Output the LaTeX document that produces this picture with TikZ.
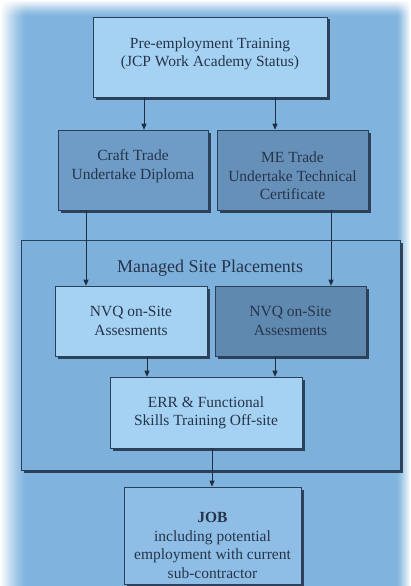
\documentclass[tikz,border=0pt]{standalone}
\usepackage{fontspec}
\setmainfont{Liberation Serif}
\usetikzlibrary{shadows,arrows.meta}
\definecolor{bg}{HTML}{80B4DF}
\definecolor{light}{HTML}{A5D2F3}
\definecolor{mid}{HTML}{8EBEE5}
\definecolor{darkA}{HTML}{6E9CC6}
\definecolor{darkB}{HTML}{6690B8}
\definecolor{darkC}{HTML}{6089B0}
\definecolor{cont}{HTML}{7DB1DC}
\definecolor{edge}{HTML}{2A3F58}
\definecolor{shadowc}{HTML}{1E2E44}
\definecolor{txt}{HTML}{26344A}
\begin{document}
\begin{tikzpicture}[x=1pt,y=-1pt,
  box/.style={draw=edge, line width=0.6pt, inner sep=0pt,
    drop shadow={shadow xshift=2.5pt, shadow yshift=-2.5pt, fill=shadowc, opacity=0.85}},
  lbl/.style={text=txt, align=center, font=\fontsize{15.5}{18.5}\selectfont, inner sep=0pt},
  arr/.style={draw=shadowc, line width=0.9pt, -{Triangle[length=6pt,width=5pt]}}
]
\useasboundingbox (0,0) rectangle (411,586);
\fill[bg] (0,0) rectangle (411,586);
% soft white fades at the edges
\foreach \i in {0,...,25}{
  \pgfmathsetmacro\op{(1-\i/26)^1.3}
  \fill[white, opacity=\op] (\i,0) rectangle (\i+1.05,586);
}
\foreach \i in {0,...,13}{
  \pgfmathsetmacro\op{(1-\i/14)^1.3}
  \fill[white, opacity=\op] (410-\i,0) rectangle (411.05-\i,586);
}
\foreach \i in {0,...,15}{
  \pgfmathsetmacro\op{(1-\i/16)^1.3}
  \fill[white, opacity=\op] (0,\i) rectangle (411,\i+1.05);
}

% container
\node[box, fill=cont, minimum width=379pt, minimum height=230pt] (cont) at (210.5,355) {};
\node[lbl, font=\fontsize{18}{21}\selectfont] (conttitle) at (210,268) {Managed Site Placements};

% boxes
\node[box, fill=light, minimum width=234pt, minimum height=80pt] (top) at (210,57) {};
\node[lbl] (toptext) at (210,54) {Pre-employment Training\\(JCP Work Academy Status)};

\node[box, fill=darkA, minimum width=150pt, minimum height=80pt] (craft) at (133,170) {};
\node[lbl] (crafttext) at (133,166) {Craft Trade\\Undertake Diploma};

\node[box, fill=darkB, minimum width=151pt, minimum height=80pt] (me) at (292.5,170) {};
\node[lbl] (metext) at (292.5,176) {ME Trade\\Undertake Technical\\Certificate};

\node[box, fill=light, minimum width=152pt, minimum height=70pt] (nvql) at (131,321) {};
\node[lbl] (nvqltext) at (131,321) {NVQ on-Site\\Assesments};

\node[box, fill=darkC, minimum width=151pt, minimum height=70pt] (nvqr) at (290.5,321) {};
\node[lbl] (nvqrtext) at (290.5,321) {NVQ on-Site\\Assesments};

\node[box, fill=light, minimum width=192pt, minimum height=71pt] (err) at (206,412.5) {};
\node[lbl] (errtext) at (206,413) {ERR \& Functional\\Skills Training Off-site};

\node[box, fill=mid, minimum width=177pt, minimum height=97pt] (job) at (212.5,535.5) {};
\node[lbl] (jobtext) at (212.5,545.5) {\textbf{JOB}\\including potential\\employment with current\\sub-contractor};

% arrows
\draw[arr] ([xshift=-66pt]top.south) -- ([xshift=11pt]craft.north);
\draw[arr] ([xshift=65pt]top.south) -- ([xshift=-17.5pt]me.north);
\draw[arr] ([xshift=-47pt]craft.south) -- ([xshift=-45pt]nvql.north);
\draw[arr] ([xshift=38.5pt]me.south) -- ([xshift=40.5pt]nvqr.north);
\draw[arr] ([xshift=16pt]nvql.south) -- ([xshift=-59pt]err.north);
\draw[arr] ([xshift=-15.5pt]nvqr.south) -- ([xshift=69pt]err.north);
\draw[arr] ([xshift=6pt]err.south) -- ([xshift=-0.5pt]job.north);
\end{tikzpicture}
\end{document}
